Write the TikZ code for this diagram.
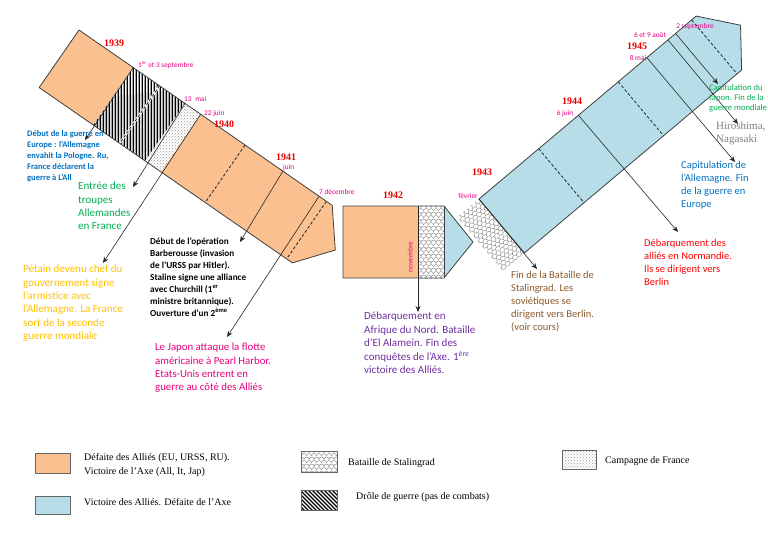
\documentclass[tikz,border=0pt]{standalone}
\usepackage{fontspec}
\setmainfont{Carlito}
\newfontfamily\serifT{Liberation Serif}
\usetikzlibrary{arrows.meta,patterns}
\definecolor{orangeF}{HTML}{FAC090}
\definecolor{blueF}{HTML}{B7DEE8}
\definecolor{pinkT}{RGB}{230,0,126}
\definecolor{yearred}{RGB}{235,0,0}
\definecolor{blueT}{HTML}{0070C0}
\definecolor{greenT}{HTML}{00B050}
\definecolor{yellowT}{HTML}{FFC000}
\definecolor{purpleT}{HTML}{7030A0}
\definecolor{brownT}{HTML}{8B5A2B}
\definecolor{redT}{HTML}{FF0000}
\definecolor{greyT}{HTML}{7F7F7F}
\tikzset{
  bandedge/.style={draw=black!75, line width=0.8pt, line join=round},
  divdash/.style={draw=black!85, line width=0.8pt, dash pattern=on 3pt off 2pt},
  pointer/.style={draw=black!85, line width=0.6pt, -{Stealth[length=6pt,width=5pt]}},
  stripe/.style={draw=black, line width=1.3pt},
  scaleline/.style={draw=black!55, line width=0.35pt},
  year/.style={font=\serifT\bfseries\fontsize{10}{12}\selectfont, text=yearred, inner sep=0pt},
  datelbl/.style={font=\fontsize{7.3}{8}\selectfont, text=pinkT, inner sep=0pt},
  note/.style={inner sep=0pt, align=left, anchor=north west},
  legtext/.style={font=\serifT\fontsize{10}{14}\selectfont, inner sep=0pt, align=left, anchor=west},
  swatch/.style={draw=black!60, line width=0.6pt},
}
\newcommand\stalscales[4]{%
  \foreach \yy [count=\k] in {0,3.5,...,#4}{%
    \pgfmathsetmacro\off{mod(\k,2)*2.5}%
    \foreach \xx in {-5,0,...,#3}{%
      \draw[scaleline] (\xx+\off+#1,\yy+#2) arc[start angle=180,end angle=360,radius=2.5];
    }%
  }%
}
\begin{document}
\begin{tikzpicture}[x=1pt,y=-1pt]
\useasboundingbox (0,0) rectangle (768,543);
\fill[white] (0,0) rectangle (768,543);

% ---------------- left band (1939-1941)
\begin{scope}[shift={(79,30)}, rotate=-34.7]
  \fill[orangeF] (0,0) -- (308,0) -- (336,35) -- (308,70) -- (0,70) -- cycle;
  \fill[white] (66,0) rectangle (129,70);
  \begin{scope}
    \clip (66,0) rectangle (129,70);
    \foreach \a in {15,18.65,...,132} \draw[stripe] (\a,0) -- ++(48.5,70);
  \end{scope}
  \draw[white, line width=2.2pt] (98,0) -- (98,70);
  \draw[divdash] (98,0) -- (98,70);
  \fill[white] (129,0) rectangle (148,70);
  \fill[pattern=crosshatch dots, pattern color=black!40] (129,0) rectangle (148,70);
  \draw[divdash] (202,0) -- (202,70);
  \draw[divdash] (301,0) -- (301,70);
  \draw[bandedge] (0,0) -- (308,0) -- (336,35) -- (308,70) -- (0,70) -- cycle;
  \coordinate (sepA) at (66,0);
  \coordinate (maiA) at (129,0);
  \coordinate (juinA) at (148,0);
  \coordinate (juinB) at (248,0);
  \coordinate (decA) at (292,0);
\end{scope}

\node[year] (y1939) at (114,43) {1939};
\node[datelbl, anchor=west] (d1) at (138,65) {1\textsuperscript{er} et 3 septembre};
\node[datelbl, anchor=west] (d2) at (184,99) {13\enspace mai};
\node[datelbl, anchor=west] (d3) at (204,114) {22 juin};
\node[year] (y1940) at (224,124) {1940};
\node[year] (y1941) at (286,157) {1941};
\node[datelbl, anchor=west] (d4) at (283,168) {juin};
\node[datelbl, anchor=west] (d5) at (319,192) {7 décembre};

% ---------------- middle box (1942)
\fill[orangeF] (343,206) rectangle (418,278);
\fill[white] (418,206) rectangle (444,278);
\begin{scope}
  \clip (418,206) rectangle (444,278);
  \stalscales{416}{204}{30}{78}
\end{scope}
\fill[blueF] (444,206) -- (473,242) -- (444,278) -- cycle;
\draw[bandedge] (343,206) -- (444,206) -- (473,242) -- (444,278) -- (343,278) -- cycle;
\draw[bandedge] (444,206) -- (444,278);
\node[year] (y1942) at (393,195) {1942};
\node[datelbl, rotate=90] (d6) at (410,257) {novembre};
\coordinate (novA) at (418,206);
\coordinate (novE) at (418,312);
\draw[pointer] (novA) -- (novE);

% ---------------- right band (1943-1945)
\begin{scope}[shift={(479,199)}, rotate=40.1]
  \fill[white] (-28,0) rectangle (0,70.5);
  \begin{scope}
    \clip (-28,0) rectangle (0,70.5);
    \stalscales{-30}{-2}{32}{75}
  \end{scope}
  \fill[blueF] (0,0) -- (284,0) -- (312,35.5) -- (284,70.5) -- (0,70.5) -- cycle;
  \draw[divdash] (78,0) -- (78,70.5);
  \draw[divdash] (182,0) -- (182,70.5);
  \draw[divdash] (278,0) -- (278,70.5);
  \draw[bandedge] (0,0) -- (284,0) -- (312,35.5) -- (284,70.5) -- (0,70.5) -- cycle;
  \coordinate (stalB) at (0,0);
  \coordinate (juinC) at (130,0);
  \coordinate (maiB) at (219.5,0);
  \coordinate (aoutA) at (247,0);
  \coordinate (septB) at (257,0);
\end{scope}

\node[year] (y1943) at (482,172) {1943};
\node[datelbl] (d7) at (468,196) {février};
\node[year] (y1944) at (572,101) {1944};
\node[datelbl] (d8) at (565,114) {6 juin};
\node[year] (y1945) at (637,46) {1945};
\node[datelbl] (d9) at (638,58) {8 mai};
\node[datelbl] (d10) at (650,35) {6 et 9 août};
\node[datelbl] (d11) at (695,27) {2 septembre};

% ---------------- pointers
\coordinate (e1) at (85,140);
\coordinate (e2) at (133,187);
\coordinate (e3) at (103,263);
\coordinate (e4) at (240,242);
\coordinate (e5) at (227,337);
\coordinate (e6) at (537,269);
\coordinate (e7) at (678,232);
\coordinate (e8) at (735,162);
\coordinate (e9) at (738,124);
\coordinate (e10) at (718,84);
\draw[pointer] (sepA) -- (e1);
\draw[pointer] (maiA) -- (e2);
\draw[pointer] (juinA) -- (e3);
\draw[pointer] (juinB) -- (e4);
\draw[pointer] (decA) -- (e5);
\draw[pointer] (stalB) -- (e6);
\draw[pointer] (juinC) -- (e7);
\draw[pointer] (maiB) -- (e8);
\draw[pointer] (aoutA) -- (e9);
\draw[pointer] (septB) -- (e10);

% ---------------- annotations
\node[note, text=blueT, font=\bfseries\fontsize{8.5}{11.2}\selectfont] (t1) at (27,130)
  {Début de la guerre en\\Europe : l’Allemagne\\envahit la Pologne. Ru,\\France déclarent la\\guerre à L’All};
\node[note, text=greenT, font=\fontsize{11}{13.3}\selectfont] (t2) at (78,182)
  {Entrée des\\troupes\\Allemandes\\en France};
\node[note, text=yellowT, font=\fontsize{11}{13.3}\selectfont] (t3) at (23,265)
  {Pétain devenu chef du\\gouvernement signe\\l’armistice avec\\l’Allemagne. La France\\sort de la seconde\\guerre mondiale};
\node[note, text=black, font=\bfseries\fontsize{9.2}{11.9}\selectfont] (t4) at (150,238)
  {Début de l’opération\\Barberousse (invasion\\de l’URSS par Hitler).\\Staline signe une alliance\\avec Churchill (1\textsuperscript{er}\\ministre britannique).\\Ouverture d’un 2\textsuperscript{ème}};
\node[note, text=pinkT, font=\fontsize{10.8}{13.3}\selectfont] (t5) at (155,343)
  {Le Japon attaque la flotte\\américaine à Pearl Harbor.\\Etats-Unis entrent en\\guerre au côté des Alliés};
\node[note, text=purpleT, font=\fontsize{11}{13.5}\selectfont] (t6) at (364,312)
  {Débarquement en\\Afrique du Nord. Bataille\\d’El Alamein. Fin des\\conquêtes de l’Axe. 1\textsuperscript{ère}\\victoire des Alliés.};
\node[note, text=brownT, font=\fontsize{10.5}{13}\selectfont] (t7) at (511,271)
  {Fin de la Bataille de\\Stalingrad. Les\\soviétiques se\\dirigent vers Berlin.\\(voir cours)};
\node[note, text=redT, font=\fontsize{10.5}{12.7}\selectfont] (t8) at (644,239.5)
  {Débarquement des\\alliés en Normandie.\\Ils se dirigent vers\\Berlin};
\node[note, text=blueT, font=\fontsize{10.5}{12.8}\selectfont] (t9) at (681,161.5)
  {Capitulation de\\l’Allemagne. Fin\\de la guerre en\\Europe};
\node[note, text=greenT, font=\fontsize{8.6}{10}\selectfont] (t10) at (709,84.5)
  {Capitulation du\\Japon. Fin de la\\guerre mondiale};
\node[note, text=greyT, font=\serifT\fontsize{11}{13}\selectfont] (t11) at (716,122)
  {Hiroshima,\\Nagasaki};

% ---------------- legend
\filldraw[swatch, fill=orangeF] (35,453) rectangle (70,473);
\filldraw[swatch, fill=blueF] (35,496) rectangle (70,514);
\fill[white] (301,451) rectangle (337,472);
\begin{scope}
  \clip (301,451) rectangle (337,472);
  \stalscales{299}{449}{40}{27}
\end{scope}
\draw[swatch] (301,451) rectangle (337,472);
\fill[white] (301,490) rectangle (337,510);
\begin{scope}
  \clip (301,490) rectangle (337,510);
  \foreach \a in {270,274,...,340} \draw[stripe] (\a,488) -- ++(26,26);
\end{scope}
\draw[swatch] (301,490) rectangle (337,510);
\fill[white] (562,450) rectangle (596,469);
\fill[pattern=crosshatch dots, pattern color=black!40] (562,450) rectangle (596,469);
\draw[swatch] (562,450) rectangle (596,469);

\node[legtext] (lg1) at (84,465) {Défaite des Alliés (EU, URSS, RU).\\Victoire de l’Axe (All, It, Jap)};
\node[legtext] (lg2) at (84,502) {Victoire des Alliés. Défaite de l’Axe};
\node[legtext] (lg3) at (348,463) {Bataille de Stalingrad};
\node[legtext] (lg4) at (356,497) {Drôle de guerre (pas de combats)};
\node[legtext] (lg5) at (605,461) {Campagne de France};
\end{tikzpicture}
\end{document}
